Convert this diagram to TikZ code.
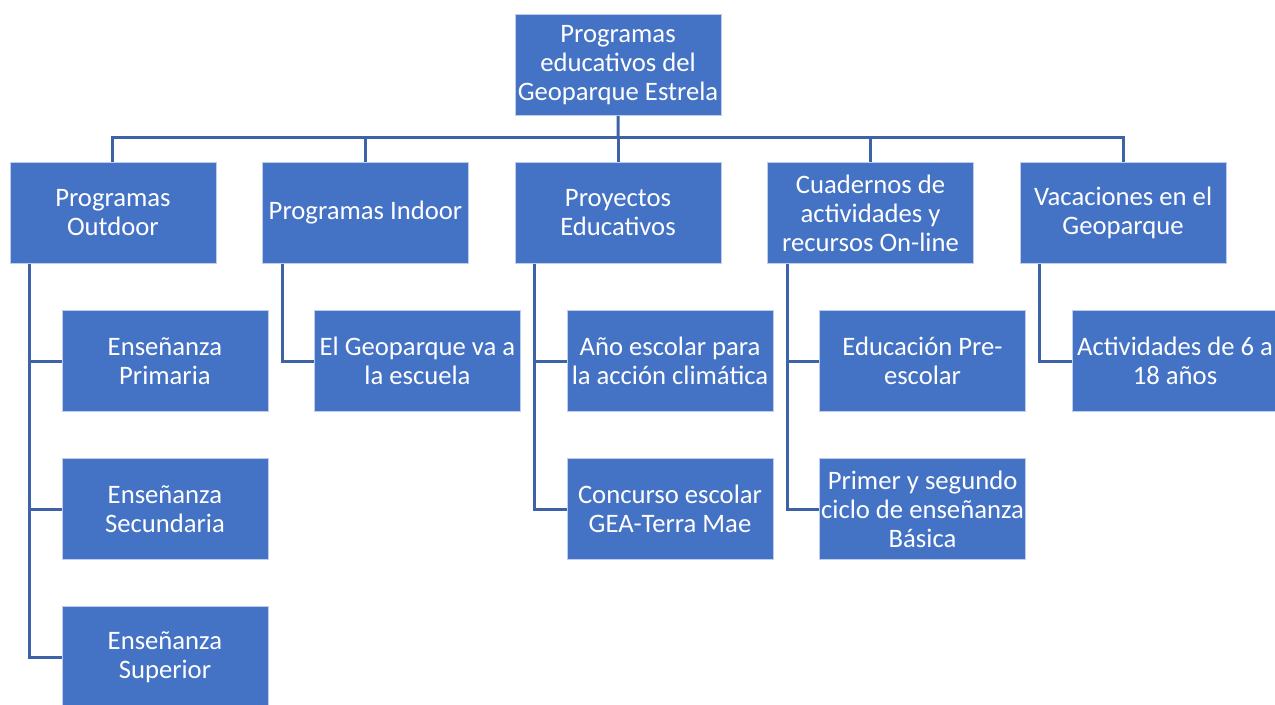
\documentclass[tikz,border=0pt]{standalone}
\usepackage{fontspec}
\setmainfont{Carlito}
\usepackage{tikz}
\usetikzlibrary{calc}
\usetikzlibrary{positioning}
\usepackage{xcolor}
\definecolor{boxblue}{HTML}{4472C4}
\definecolor{lineblue}{HTML}{3D62A8}

\begin{document}
\begin{tikzpicture}[x=0.75pt,y=-0.75pt,node distance=111pt and 189.4pt,on grid,
    box/.style={fill=boxblue,draw=boxblue!35,line width=0.6pt,text=white,align=center,
      minimum width=154.5pt,minimum height=75.75pt,inner sep=0pt,
      font=\fontsize{20}{21.75}\selectfont},
    link/.style={draw=lineblue,line width=2.25pt}]
        \useasboundingbox (0,0) rectangle (1275,704);

        \node[box] (root) at (618,65) {Programas\\educativos del\\Geoparque Estrela};

        \node[box] (proy) [below=of root] {Proyectos\\Educativos};
        \node[box] (indoor) [left=of proy] {Programas Indoor};
        \node[box] (outdoor) [left=of indoor] {Programas\\Outdoor};
        \node[box] (cuad) [right=of proy] {Cuadernos de\\actividades y\\recursos On-line};
        \node[box] (vac) [right=of cuad] {Vacaciones en el\\Geoparque};

        \node[box] (prim) [below right=111pt and 39pt of outdoor] {Enseñanza\\Primaria};
        \node[box] (sec) [below=of prim] {Enseñanza\\Secundaria};
        \node[box] (sup) [below=of sec] {Enseñanza\\Superior};

        \node[box] (escuela) [below right=111pt and 39pt of indoor] {El Geoparque va a\\la escuela};

        \node[box] (clima) [below right=111pt and 39pt of proy] {Año escolar para\\la acción climática};
        \node[box] (gea) [below=of clima] {Concurso escolar\\GEA-Terra Mae};

        \node[box] (pre) [below right=111pt and 39pt of cuad] {Educación Pre-\\escolar};
        \node[box] (basica) [below=of pre] {Primer y segundo\\ciclo de enseñanza\\Básica};

        \node[box] (act) [below right=111pt and 39pt of vac] {Actividades de 6 a\\18 años};

        \coordinate (bus) at ($(root.south)!0.46!(proy.north)$);
        \draw[link] (root.south) -- (bus);
        \foreach \n in {outdoor,indoor,proy,cuad,vac}
          \draw[link] (bus) -| (\n.north);

        \foreach \p/\c in {outdoor/prim,outdoor/sec,outdoor/sup,indoor/escuela,
                           proy/clima,proy/gea,cuad/pre,cuad/basica,vac/act}
          \draw[link] ([xshift=15pt]\p.south west) |- (\c.west);

      \end{tikzpicture}
\end{document}
